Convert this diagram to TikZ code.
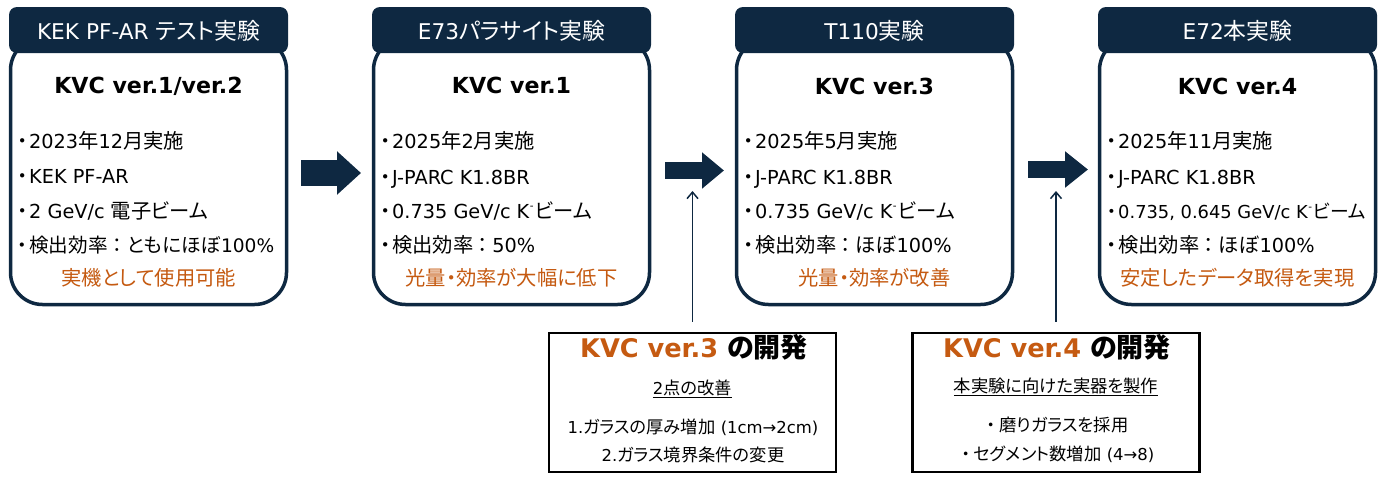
\documentclass[tikz,border=0pt]{standalone}
\usepackage{fontspec}
\setmainfont[Scale=0.95]{DejaVu Sans}
\newfontfamily\latfam[Scale=0.95]{DejaVu Sans}
\newfontfamily\cjkfam[RawFeature=+palt]{Noto Sans CJK JP}
\usetikzlibrary{arrows.meta}
\definecolor{navy}{HTML}{0E2841}
\definecolor{accent}{HTML}{C55A11}
\XeTeXinterchartokenstate=1
\newXeTeXintercharclass\CJKcls
\makeatletter
\count@="3000 \loop \XeTeXcharclass\count@=\CJKcls \advance\count@ by 1 \ifnum\count@<"3100 \repeat
\count@="4E00 \loop \XeTeXcharclass\count@=\CJKcls \advance\count@ by 1 \ifnum\count@<"A000 \repeat
\count@="FF00 \loop \XeTeXcharclass\count@=\CJKcls \advance\count@ by 1 \ifnum\count@<"FF60 \repeat
\makeatother
\XeTeXinterchartoks 0 \CJKcls = {\cjkfam}
\XeTeXinterchartoks 4095 \CJKcls = {\cjkfam}
\XeTeXinterchartoks \CJKcls 0 = {\latfam}
\XeTeXinterchartoks \CJKcls 4095 = {\latfam}
\newcommand\bul{\makebox[13pt][c]{・}}
\newcommand\dbul{\makebox[16pt][c]{・}}
\newcommand\kminus{K\kern0.5pt\raisebox{0.42em}{\fontsize{11}{11}\selectfont -}\kern1pt}
\newcommand\jcolon{\makebox[19pt][c]{：}}
\tikzset{
 hdr/.style={fill=navy, rounded corners=8pt, minimum width=279pt, minimum height=46pt, inner sep=0pt},
 body/.style={draw=navy, line width=3.5pt, fill=white, rounded corners=32pt, minimum width=276pt, minimum height=266.5pt, inner sep=0pt},
 hdrtxt/.style={text=white, font=\fontsize{22.8}{27}\selectfont, anchor=base, inner sep=0pt},
 ttl/.style={font=\fontsize{23.3}{28}\selectfont\bfseries, anchor=base, inner sep=0pt},
 item/.style={font=\fontsize{20.3}{24}\selectfont, anchor=base west, inner sep=0pt},
 note/.style={font=\fontsize{20.3}{24}\selectfont, text=accent, anchor=base, inner sep=0pt},
 devbox/.style={draw=black, line width=2.2pt, minimum width=287pt, minimum height=139pt, inner sep=0pt},
 devttl/.style={font=\fontsize{27}{32}\selectfont\bfseries, anchor=base, inner sep=0pt},
 devtxt/.style={font=\fontsize{17.3}{20}\selectfont, anchor=base, inner sep=0pt},
 bigarrow/.style n args={3}{draw=navy, line width=#1, -{Triangle[length=#2, width=#3]}},
 thinarrow/.style={draw=navy, line width=1.5pt, -{Straight Barb[length=6.5pt, width=11pt]}},
}
\begin{document}
\begin{tikzpicture}[x=1pt, y=-1pt]
\useasboundingbox (0,0) rectangle (1386,477);
% ---------- panel 1
\node[body] (p1) at (148.5,171.25) {};
\node[hdr] (h1) at (148.5,30) {};
\node[hdrtxt] (h1t) at (148.5,39) {KEK PF-AR テスト実験};
\node[ttl] (t1) at (148.5,93) {KVC ver.1/ver.2};
\node[item] (i11) at (16,148) {\bul 2023年12月実施};
\node[item] (i12) at (16,183) {\bul KEK PF-AR};
\node[item] (i13) at (16,218) {\bul 2 GeV/c 電子ビーム};
\node[item, font=\fontsize{19.6}{23}\selectfont] (i14) at (16,252) {\bul 検出効率\jcolon ともにほぼ100\%};
\node[note] (n1) at (148.5,285) {実機として使用可能};
% ---------- panel 2
\node[body] (p2) at (511.5,171.25) {};
\node[hdr] (h2) at (511.5,30) {};
\node[hdrtxt] (h2t) at (511.5,39) {E73パラサイト実験};
\node[ttl] (t2) at (511.5,93) {KVC ver.1};
\node[item] (i21) at (379,148) {\bul 2025年2月実施};
\node[item] (i22) at (379,184) {\bul J-PARC K1.8BR};
\node[item] (i23) at (379,218) {\bul 0.735 GeV/c \kminus ビーム};
\node[item] (i24) at (379,252) {\bul 検出効率\jcolon 50\%};
\node[note] (n2) at (511.5,285) {光量・効率が大幅に低下};
% ---------- panel 3
\node[body] (p3) at (874.5,171.25) {};
\node[hdr] (h3) at (874.5,30) {};
\node[hdrtxt] (h3t) at (874.5,39) {T110実験};
\node[ttl] (t3) at (874.5,94) {KVC ver.3};
\node[item] (i31) at (742,148) {\bul 2025年5月実施};
\node[item] (i32) at (742,184) {\bul J-PARC K1.8BR};
\node[item] (i33) at (742,218) {\bul 0.735 GeV/c \kminus ビーム};
\node[item] (i34) at (742,252) {\bul 検出効率\jcolon ほぼ100\%};
\node[note] (n3) at (874.5,285) {光量・効率が改善};
% ---------- panel 4
\node[body] (p4) at (1237.5,171.25) {};
\node[hdr] (h4) at (1237.5,30) {};
\node[hdrtxt] (h4t) at (1237.5,39) {E72本実験};
\node[ttl] (t4) at (1237.5,94) {KVC ver.4};
\node[item] (i41) at (1105,148) {\bul 2025年11月実施};
\node[item] (i42) at (1105,184) {\bul J-PARC K1.8BR};
\node[item, font=\fontsize{18.8}{22}\selectfont] (i43) at (1105,218) {\bul 0.735, 0.645 GeV/c \kminus ビーム};
\node[item] (i44) at (1105,252) {\bul 検出効率\jcolon ほぼ100\%};
\node[note] (n4) at (1237.5,285) {安定したデータ取得を実現};
% ---------- block arrows
\coordinate (a1s) at (301,173);  \coordinate (a1e) at (361,173);
\coordinate (a2s) at (665,170.5); \coordinate (a2e) at (724,170.5);
\coordinate (a3s) at (1028,169.5); \coordinate (a3e) at (1088,169.5);
\draw[bigarrow={26pt}{24pt}{42pt}] (a1s) -- (a1e);
\draw[bigarrow={17.5pt}{22pt}{35pt}] (a2s) -- (a2e);
\draw[bigarrow={17.5pt}{23pt}{35pt}] (a3s) -- (a3e);
% ---------- development boxes
\node[devbox] (b3) at (692.5,402.5) {};
\node[devttl] (b3t) at (694,357) {\textcolor{accent}{KVC ver.3} の開発};
\node[devtxt] (b3a) at (692.5,394) {\underline{2点の改善}};
\node[devtxt] (b3b) at (693,433) {1.ガラスの厚み増加 (1cm→2cm)};
\node[devtxt] (b3c) at (693,461) {2.ガラス境界条件の変更};
\node[devbox] (b4) at (1056,402.5) {};
\node[devttl] (b4t) at (1057,357) {\textcolor{accent}{KVC ver.4} の開発};
\node[devtxt] (b4a) at (1056,392) {\underline{本実験に向けた実器を製作}};
\node[devtxt] (b4b) at (1056,431) {\dbul 磨りガラスを採用};
\node[devtxt] (b4c) at (1056,460) {\dbul セグメント数増加 (4→8)};
% ---------- thin arrows
\coordinate (u3) at (692.5,191);
\coordinate (u4) at (1056,191);
\draw[thinarrow] ([yshift=10pt]b3.north) -- (u3);
\draw[thinarrow] ([yshift=10pt]b4.north) -- (u4);
\end{tikzpicture}
\end{document}
